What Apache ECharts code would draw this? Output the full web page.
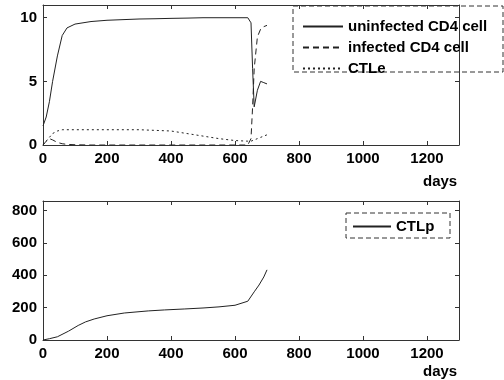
<!DOCTYPE html>
<html>
<head>
<meta charset="utf-8">
<script src="https://cdn.jsdelivr.net/npm/echarts@6/dist/echarts.min.js"></script>
<style>
html,body{margin:0;padding:0;background:#fff;}
#c{width:504px;height:380px;}
</style>
</head>
<body>
<div id="c"></div>
<script>
// ---- data ----
var tDays      = [0,10,20,30,45,60,75,100,150,200,250,300,350,400,450,500,550,600,640,650,655,660,670,680,690,700];
var uninfected = [1.5,2.2,3.4,5.0,7.0,8.6,9.2,9.5,9.7,9.8,9.85,9.9,9.92,9.95,9.97,10,10,10,10,9.6,6.0,3.0,4.3,5.0,4.9,4.8];
var infected   = [0,0.3,0.5,0.4,0.2,0.1,0.05,0.02,0,0,0,0,0,0,0,0,0,0,0,0.5,3,6,8.5,9.1,9.3,9.4];
var ctle       = [0,0.3,0.6,0.9,1.1,1.2,1.2,1.2,1.2,1.2,1.2,1.2,1.15,1.1,0.9,0.7,0.5,0.35,0.3,0.3,0.35,0.4,0.5,0.6,0.7,0.8];
var tDaysP     = [0,20,45,80,110,133,160,200,254,300,329,380,443,500,550,600,640,660,675,690,700];
var ctlp       = [0,8,20,55,90,112,130,150,167,175,180,186,192,198,205,215,240,298,340,390,434];
var topTicks   = [0,5,10];
var botTicks   = [0,200,400,600,800];
var xTicks     = [0,200,400,600,800,1000,1200];
var seriesNamesTop = ['uninfected CD4 cell','infected CD4 cell','CTLe'];
var seriesNameBot  = 'CTLp';

function pairs(t, v){ return t.map(function(x,i){ return [x, v[i]]; }); }

var FONT = 'Liberation Sans';
var lbl = {color:'#000', fontFamily:FONT, fontSize:15, fontWeight:'bold'};
var axLine = {show:true, onZero:false, lineStyle:{color:'#333', width:1}};

function xAx(grid, pos, labels){
  return {type:'value', gridIndex:grid, position:pos, min:0, max:1300, interval:200,
    axisLine:axLine, splitLine:{show:false},
    axisTick:{show:true, inside:true, length:4, lineStyle:{color:'#333'}},
    axisLabel:Object.assign({show:labels, margin:6, showMaxLabel:false, formatter:function(v){return xTicks.indexOf(v)>=0? String(v):'';}}, lbl)};
}
function yAx(grid, pos, labels, max, interval, ticks){
  return {type:'value', gridIndex:grid, position:pos, min:0, max:max, interval:interval,
    axisLine:axLine, splitLine:{show:false},
    axisTick:{show:true, inside:true, length:4, lineStyle:{color:'#333'}},
    axisLabel:Object.assign({show:labels, margin:6, showMaxLabel:false, formatter:function(v){return ticks.indexOf(v)>=0? String(v):'';}}, lbl)};
}

var lineBase = {type:'line', showSymbol:false, symbol:'none', animation:false};

var option = {
  animation:false,
  backgroundColor:'#fff',
  grid:[
    {left:43, top:5, width:416, height:140, show:false},
    {left:43, top:201, width:416, height:139, show:false}
  ],
  xAxis:[ xAx(0,'bottom',true), xAx(0,'top',false), xAx(1,'bottom',true), xAx(1,'top',false) ],
  yAxis:[ yAx(0,'left',true,11,5,topTicks), yAx(0,'right',false,11,5,topTicks),
          yAx(1,'left',true,860,200,botTicks), yAx(1,'right',false,860,200,botTicks) ],
  legend:[
    {data:seriesNamesTop, orient:'vertical', left:302, top:19, padding:0, itemWidth:40, itemHeight:12, itemGap:6, itemTextGap:5,
     itemStyle:{opacity:0},
     textStyle:{color:'#000', fontFamily:FONT, fontSize:15, fontWeight:'bold', lineHeight:12}},
    {data:[seriesNameBot], orient:'vertical', left:352, top:219, padding:0, itemWidth:38, itemHeight:12, itemTextGap:7,
     itemStyle:{opacity:0},
     textStyle:{color:'#000', fontFamily:FONT, fontSize:15, fontWeight:'bold', lineHeight:12}}
  ],
  graphic:[
    {type:'rect', shape:{x:293, y:6, width:210, height:66}, style:{fill:'none', stroke:'#333', lineWidth:1, lineDash:[5,3]}},
    {type:'rect', shape:{x:346, y:213, width:104, height:25}, style:{fill:'none', stroke:'#333', lineWidth:1, lineDash:[5,3]}},
    {type:'text', left:423, top:174, style:{text:'days', fill:'#000', font:'bold 15px "Liberation Sans"'}},
    {type:'text', left:423, top:364, style:{text:'days', fill:'#000', font:'bold 15px "Liberation Sans"'}}
  ],
  series:[
    Object.assign({}, lineBase, {name:seriesNamesTop[0], xAxisIndex:0, yAxisIndex:0, data:pairs(tDays, uninfected),
      lineStyle:{color:'#222', width:1, type:'solid'}, itemStyle:{color:'#222'}}),
    Object.assign({}, lineBase, {name:seriesNamesTop[1], xAxisIndex:0, yAxisIndex:0, data:pairs(tDays, infected),
      lineStyle:{color:'#222', width:1, type:[6,4]}, itemStyle:{color:'#222'}}),
    Object.assign({}, lineBase, {name:seriesNamesTop[2], xAxisIndex:0, yAxisIndex:0, data:pairs(tDays, ctle),
      lineStyle:{color:'#222', width:1, type:[2,3]}, itemStyle:{color:'#222'}}),
    Object.assign({}, lineBase, {name:seriesNameBot, xAxisIndex:2, yAxisIndex:2, data:pairs(tDaysP, ctlp),
      lineStyle:{color:'#222', width:1, type:'solid'}, itemStyle:{color:'#222'}})
  ]
};
var chart = echarts.init(document.getElementById('c'), null, {renderer:'canvas'});
chart.setOption(option);
</script>
</body>
</html>
